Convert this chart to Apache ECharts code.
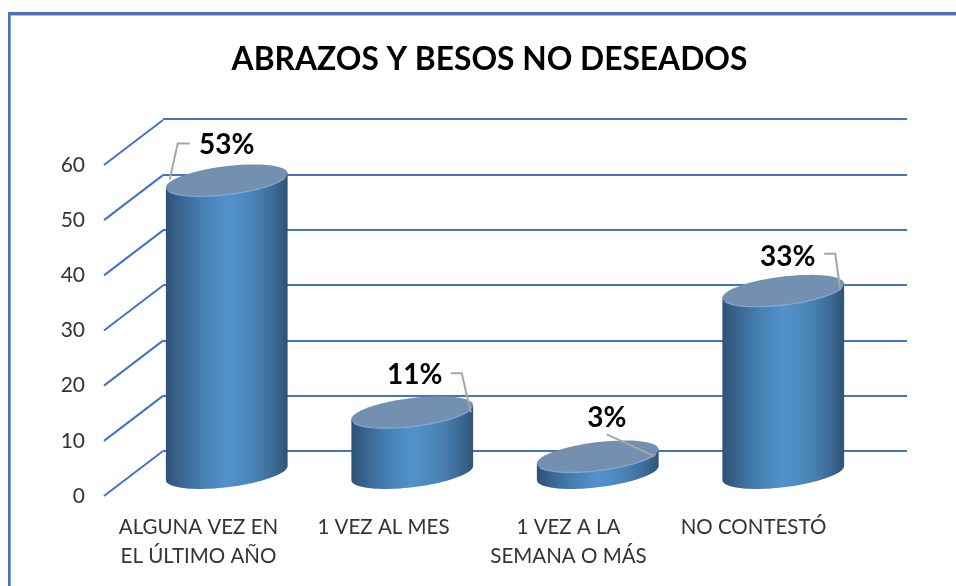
<!DOCTYPE html>
<html>
<head>
<meta charset="utf-8">
<style>html,body{margin:0;padding:0;background:#fff}#c{width:956px;height:586px}</style>
<script src="https://cdn.jsdelivr.net/npm/echarts@6/dist/echarts.min.js"></script>
</head>
<body>
<div id="c"></div>
<script>
const titleText = 'ABRAZOS Y BESOS NO DESEADOS';
const categories = ['ALGUNA VEZ EN\nEL ÚLTIMO AÑO', '1 VEZ AL MES', '1 VEZ A LA\nSEMANA O MÁS', 'NO CONTESTÓ'];
const values = [53, 11, 3, 33];
const ticks = [0, 10, 20, 30, 40, 50, 60];

const FONT = 'Lato, "Open Sans", sans-serif';
const BLUE = '#4472c4';
const DEPTH_X = 59, DEPTH_Y = -45;
const A = 61.3, B = 14.2, TILT = 7 * Math.PI / 180;
const T0 = Math.atan((B / A) * Math.tan(TILT));

// callouts relative to the top centre of each cylinder
const callouts = [
  { label: [0, -35], leader: [[-57, -1], [-49, -37], [-37, -37]] },
  { label: [2.5, -37], leader: [[58.5, 0], [49.5, -39], [38.5, -39]] },
  { label: [9, -38], leader: [[57, 0], [9, -22]] },
  { label: [4.5, -34], leader: [[57, -1], [52, -37], [41, -37]] }
];

function ellipsePt(cx, cy, t) {
  return [
    cx + A * Math.cos(t) * Math.cos(TILT) + B * Math.sin(t) * Math.sin(TILT),
    cy - A * Math.cos(t) * Math.sin(TILT) + B * Math.sin(t) * Math.cos(TILT)
  ];
}
function arc(cx, cy, from, to, n) {
  const pts = [];
  for (let i = 0; i <= n; i++) pts.push(ellipsePt(cx, cy, from + (to - from) * i / n));
  return pts;
}

function renderCylinder(params, api) {
  const idx = api.value(0), val = api.value(1);
  const top = api.coord([idx, val]);
  const base = api.coord([idx, 0]);
  const body = arc(base[0], base[1], T0, T0 + Math.PI, 48)
    .concat([ellipsePt(top[0], top[1], T0 + Math.PI), ellipsePt(top[0], top[1], T0)]);
  const c = callouts[idx];
  return {
    type: 'group',
    children: [
      {
        type: 'polygon',
        shape: { points: body },
        style: {
          fill: {
            type: 'linear', x: 0, y: 0, x2: 1, y2: 0,
            colorStops: [
              { offset: 0, color: '#2d5278' },
              { offset: 0.12, color: '#3a658f' },
              { offset: 0.3, color: '#4680b3' },
              { offset: 0.5, color: '#5292cb' },
              { offset: 0.7, color: '#4b86ba' },
              { offset: 0.88, color: '#3d6c98' },
              { offset: 1, color: '#2f5474' }
            ]
          }
        }
      },
      {
        type: 'polygon',
        shape: { points: arc(top[0], top[1], 0, Math.PI * 2, 72) },
        style: { fill: '#7490b0' }
      },
      {
        type: 'polyline',
        shape: { points: arc(top[0], top[1], T0 + 0.3, T0 + Math.PI - 0.3, 36) },
        style: { stroke: '#86a8d2', lineWidth: 1.2, fill: null }
      },
      {
        type: 'polyline',
        shape: { points: c.leader.map(p => [top[0] + p[0], top[1] + p[1]]) },
        style: { stroke: '#a6a6a6', lineWidth: 2, fill: null }
      },
      {
        type: 'text',
        style: {
          x: top[0] + c.label[0], y: top[1] + c.label[1],
          text: val + '%', align: 'center', verticalAlign: 'middle',
          font: 'bold 28px ' + FONT, fill: '#000'
        }
      }
    ]
  };
}

function renderDiagonal(params, api) {
  const y = api.coord([0, api.value(0)])[1];
  const x = params.coordSys.x - 2;
  return {
    type: 'line',
    shape: { x1: x, y1: y, x2: x + DEPTH_X, y2: y + DEPTH_Y },
    style: { stroke: BLUE, lineWidth: 2 }
  };
}

const chart = echarts.init(document.getElementById('c'), null, { renderer: 'canvas' });
chart.setOption({
  animation: false,
  backgroundColor: '#fff',
  title: {
    text: titleText, left: 484.5, top: 39, textAlign: 'center',
    textStyle: { fontFamily: FONT, fontWeight: 'bold', fontSize: 31.75, color: '#000' }
  },
  graphic: [
    { type: 'rect', shape: { x: 8, y: 12, width: 948, height: 3 }, style: { fill: BLUE } },
    { type: 'rect', shape: { x: 8, y: 12, width: 3, height: 574 }, style: { fill: BLUE } },
    { type: 'rect', shape: { x: 11, y: 15, width: 945, height: 1 }, style: { fill: '#a9bfe8' } },
    { type: 'rect', shape: { x: 10, y: 15, width: 1, height: 571 }, style: { fill: '#7f9fdc' } }
  ],
  grid: [
    { left: 106, width: 740, top: 165, height: 331 },   // front plane: tick labels
    { left: 163, width: 744, top: 119, height: 332 },   // back wall
    { left: 134, width: 742, top: 141.75, height: 331.25 } // cylinders
  ],
  xAxis: [
    {
      gridIndex: 0, type: 'category', data: categories,
      axisLine: { show: false }, axisTick: { show: false },
      axisLabel: {
        interval: 0, margin: 17, color: '#333333', fontFamily: FONT, fontSize: 20.5,
        lineHeight: 29, verticalAlign: 'top', align: 'center'
      }
    },
    { gridIndex: 1, type: 'category', data: categories, show: false },
    { gridIndex: 2, type: 'category', data: categories, show: false }
  ],
  yAxis: [
    {
      gridIndex: 0, type: 'value', min: 0, max: 60, interval: 10,
      axisLine: { show: false }, axisTick: { show: false }, splitLine: { show: false },
      axisLabel: { margin: 21, color: '#333333', fontFamily: FONT, fontSize: 21 }
    },
    {
      gridIndex: 1, type: 'value', min: 0, max: 60, interval: 10,
      axisLine: { show: false }, axisTick: { show: false }, axisLabel: { show: false },
      splitLine: { show: true, lineStyle: { color: BLUE, width: 2 } }
    },
    {
      gridIndex: 2, type: 'value', min: 0, max: 60, interval: 10, show: false,
      splitLine: { show: false }
    }
  ],
  series: [
    {
      type: 'custom', xAxisIndex: 0, yAxisIndex: 0, coordinateSystem: 'cartesian2d',
      clip: false, silent: true, z: 1,
      data: ticks.map(v => [v]), encode: { x: [], y: 0 },
      renderItem: renderDiagonal
    },
    {
      type: 'custom', xAxisIndex: 2, yAxisIndex: 2, coordinateSystem: 'cartesian2d',
      clip: false, silent: true, z: 3,
      data: values.map((v, i) => [i, v]), encode: { x: 0, y: 1 },
      renderItem: renderCylinder
    }
  ]
});
</script>
</body>
</html>
